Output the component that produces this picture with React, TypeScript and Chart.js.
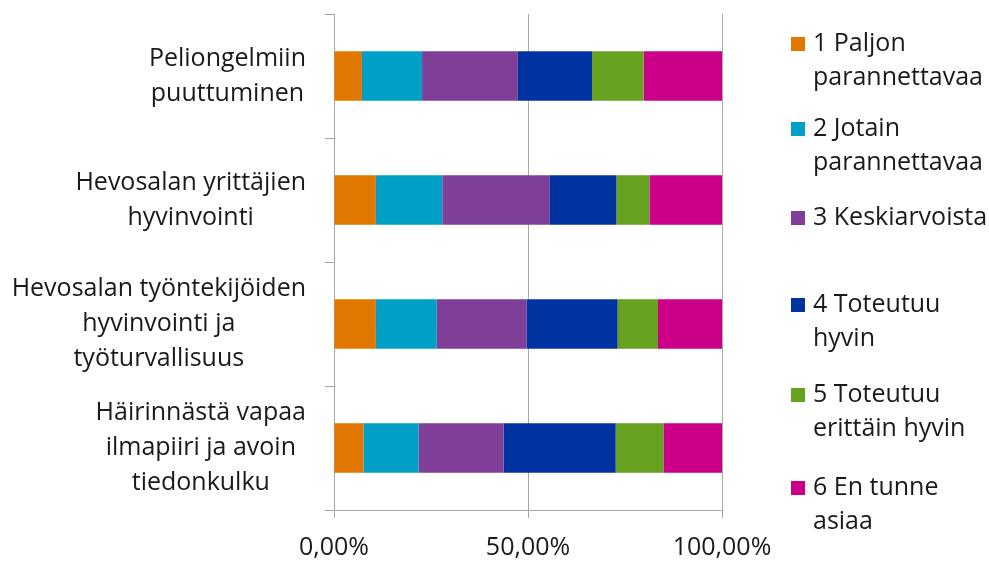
import React, { useEffect, useRef } from "react";
import { Chart, registerables } from "chart.js";

Chart.register(...registerables);

const categories: string[][] = [
  ["Peliongelmiin", "puuttuminen"],
  ["Hevosalan yrittäjien", "hyvinvointi"],
  ["Hevosalan työntekijöiden", "hyvinvointi ja", "työturvallisuus"],
  ["Häirinnästä vapaa", "ilmapiiri ja avoin", "tiedonkulku"],
];

const seriesLabels: string[][] = [
  ["1 Paljon", "parannettavaa"],
  ["2 Jotain", "parannettavaa"],
  ["3 Keskiarvoista"],
  ["4 Toteutuu", "hyvin"],
  ["5 Toteutuu", "erittäin hyvin"],
  ["6 En tunne", "asiaa"],
];

const s1 = [7.2, 10.8, 10.8, 7.6];
const s2 = [15.5, 17.1, 15.7, 14.2];
const s3 = [24.7, 27.6, 23.1, 21.9];
const s4 = [19.1, 17.3, 23.5, 28.9];
const s5 = [13.3, 8.5, 10.4, 12.3];
const s6 = [20.2, 18.7, 16.5, 15.1];

const seriesValues = [s1, s2, s3, s4, s5, s6];
const seriesColors = ["#E07800", "#00A0C6", "#7F3F98", "#0033A0", "#66A11F", "#CC0088"];

const xTicks = [0, 50, 100];

const FONT = "'Open Sans', 'Noto Sans', sans-serif";
const FONT_SIZE = 25;
const TEXT_COLOR = "#1a1a1a";
const GRID = "#a6a6a6";

const customText = {
  id: "customText",
  afterDraw(chart: any) {
    const ctx = chart.ctx;
    const yScale = chart.scales.y;
    ctx.save();
    ctx.font = `${FONT_SIZE}px ${FONT}`;
    ctx.fillStyle = TEXT_COLOR;
    ctx.textBaseline = "middle";
    ctx.textAlign = "center";
    const lineH = 35;
    const rightEdge = 306;
    categories.forEach((lines, i) => {
      const cy = yScale.getPixelForValue(i);
      const maxW = Math.max(...lines.map((l) => ctx.measureText(l).width));
      const cx = rightEdge - maxW / 2;
      const startY = cy - ((lines.length - 1) * lineH) / 2;
      lines.forEach((l, j) => ctx.fillText(l, cx, startY + j * lineH));
    });
    // legend
    const slotY = [44, 129, 218, 305, 395, 488];
    const legLineH = 34;
    ctx.textAlign = "left";
    seriesLabels.forEach((lines, i) => {
      const y0 = slotY[i];
      ctx.fillStyle = seriesColors[i];
      ctx.fillRect(791, y0 - 7, 14, 14);
      ctx.fillStyle = TEXT_COLOR;
      lines.forEach((l, j) => ctx.fillText(l, 813, y0 + j * legLineH));
    });
    ctx.restore();
  },
};

export default function App() {
  const ref = useRef<HTMLCanvasElement | null>(null);
  useEffect(() => {
    document.body.style.margin = "0";
    const canvas = ref.current!;
    const chart = new Chart(canvas, {
      type: "bar",
      data: {
        labels: categories.map((c) => c.join(" ")),
        datasets: seriesValues.map((vals, i) => ({
          label: seriesLabels[i].join(" "),
          data: vals,
          backgroundColor: seriesColors[i],
          borderWidth: 0,
          barPercentage: 0.4,
          categoryPercentage: 1,
        })),
      },
      options: {
        indexAxis: "y",
        responsive: false,
        animation: false,
        layout: { padding: { left: 0, right: 267, top: 14, bottom: 0 } },
        plugins: { legend: { display: false }, tooltip: { enabled: false } },
        scales: {
          x: {
            stacked: true,
            min: 0,
            max: 100,
            afterBuildTicks: (scale: any) => {
              scale.ticks = xTicks.map((v) => ({ value: v }));
            },
            afterFit: (scale: any) => {
              scale.height = 51;
            },
            grid: { color: GRID, lineWidth: 1, tickLength: 8, drawTicks: true },
            border: { color: GRID },
            ticks: {
              font: { family: FONT, size: FONT_SIZE },
              color: TEXT_COLOR,
              padding: 15,
              maxRotation: 0,
              callback: (v: any) => `${Number(v).toFixed(2).replace(".", ",")}%`,
            },
          },
          y: {
            stacked: true,
            afterFit: (scale: any) => {
              scale.width = 334;
            },
            grid: { offset: true, drawOnChartArea: false, tickLength: 9, color: GRID },
            border: { color: GRID },
            ticks: { display: false },
          },
        },
      },
      plugins: [customText],
    } as any);
    return () => chart.destroy();
  }, []);
  return <canvas ref={ref} width={989} height={561} style={{ display: "block" }} />;
}
